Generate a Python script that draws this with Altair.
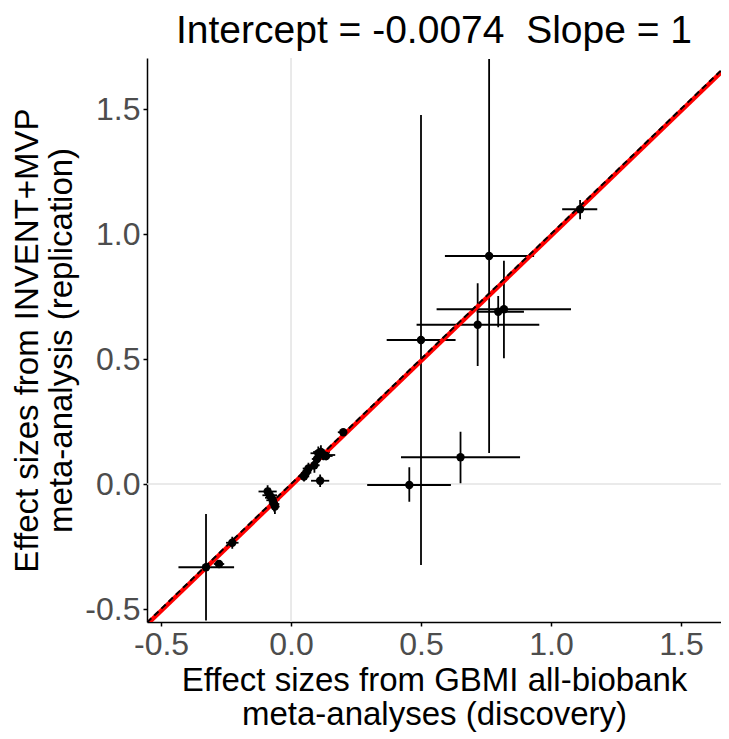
import altair as alt
import pandas as pd

# discovery (GBMI) effect sizes and 95% CI
gx    = [0.762, 0.500, 0.718, 0.797, 0.819, 0.652, 0.455, 1.112, -0.327, -0.277, -0.226, 0.201, 0.112,
         -0.090, -0.082, -0.075, -0.070, -0.065, -0.062,
         0.050, 0.058, 0.067, 0.090, 0.100, 0.105, 0.115, 0.125, 0.135]
gx_lo = [0.592, 0.368, 0.483, 0.714, 0.560, 0.423, 0.293, 1.043, -0.433, -0.297, -0.250, 0.180, 0.077,
         -0.125, -0.110, -0.100, -0.095, -0.085, -0.080,
         0.030, 0.038, 0.045, 0.070, 0.080, 0.075, 0.085, 0.095, 0.110]
gx_hi = [0.935, 0.633, 0.955, 0.896, 1.077, 0.881, 0.615, 1.178, -0.219, -0.257, -0.202, 0.222, 0.147,
         -0.055, -0.054, -0.050, -0.045, -0.045, -0.044,
         0.070, 0.078, 0.090, 0.110, 0.125, 0.135, 0.150, 0.170, 0.160]
# replication (INVENT+MVP) effect sizes and 95% CI
iy    = [0.912, 0.576, 0.637, 0.689, 0.699, 0.107, -0.004, 1.099, -0.333, -0.320, -0.235, 0.207, 0.013,
         -0.030, -0.045, -0.055, -0.065, -0.080, -0.090,
         0.030, 0.045, 0.062, 0.075, 0.100, 0.123, 0.128, 0.116, 0.112]
iy_lo = [0.124, -0.324, 0.472, 0.627, 0.503, 0.003, -0.071, 1.059, -0.546, -0.335, -0.259, 0.195, -0.012,
         -0.055, -0.075, -0.080, -0.085, -0.110, -0.120,
         0.010, 0.025, 0.040, 0.045, 0.080, 0.095, 0.100, 0.095, 0.095]
iy_hi = [1.700, 1.476, 0.803, 0.752, 0.893, 0.209, 0.067, 1.136, -0.120, -0.305, -0.211, 0.219, 0.038,
         -0.005, -0.015, -0.030, -0.045, -0.050, -0.060,
         0.050, 0.065, 0.085, 0.105, 0.120, 0.150, 0.155, 0.140, 0.130]

intercept = -0.0074
slope = 1.0
X_DOM = [-0.554, 1.654]
Y_DOM = [-0.552, 1.704]
ticks = [-0.5, 0.0, 0.5, 1.0, 1.5]

df = pd.DataFrame(dict(x=gx, xlo=gx_lo, xhi=gx_hi, y=iy, ylo=iy_lo, yhi=iy_hi))
lines = pd.DataFrame(dict(x=X_DOM,
                          fit=[intercept + slope * v for v in X_DOM],
                          ident=X_DOM))
zero = pd.DataFrame(dict(v=[0.0]))

FONT = "Liberation Sans"
lab = "datum.value < 0 ? '-' + format(abs(datum.value), '.1f') : format(datum.value, '.1f')"
xs = alt.Scale(domain=X_DOM, nice=False, zero=False)
ys = alt.Scale(domain=Y_DOM, nice=False, zero=False)
xaxis = alt.Axis(title=["Effect sizes from GBMI all-biobank", "meta-analyses (discovery)"],
                 values=ticks, labelExpr=lab, grid=False, titlePadding=4)
yaxis = alt.Axis(title=["Effect sizes from INVENT+MVP", "meta-analysis (replication)"],
                 values=ticks, labelExpr=lab, grid=False, titlePadding=6)

gx_rule = alt.Chart(zero).mark_rule(color="#e3e3e3", strokeWidth=1.5).encode(
    x=alt.X("v:Q", scale=xs, axis=xaxis))
gy_rule = alt.Chart(zero).mark_rule(color="#e3e3e3", strokeWidth=1.5).encode(
    y=alt.Y("v:Q", scale=ys, axis=yaxis))

base = alt.Chart(df)
eh = base.mark_rule(color="black", strokeWidth=1.8, clip=True).encode(
    x=alt.X("xlo:Q", scale=xs), x2="xhi:Q", y=alt.Y("y:Q", scale=ys))
ev = base.mark_rule(color="black", strokeWidth=1.8, clip=True).encode(
    x=alt.X("x:Q", scale=xs), y=alt.Y("ylo:Q", scale=ys), y2="yhi:Q")
fit = alt.Chart(lines).mark_line(color="#ff0000", strokeWidth=4.5, clip=True).encode(
    x=alt.X("x:Q", scale=xs), y=alt.Y("fit:Q", scale=ys))
ident = alt.Chart(lines).mark_line(color="black", strokeWidth=2, strokeDash=[6, 4], clip=True).encode(
    x=alt.X("x:Q", scale=xs), y=alt.Y("ident:Q", scale=ys))
pts = base.mark_circle(color="black", size=70, opacity=1).encode(
    x=alt.X("x:Q", scale=xs), y=alt.Y("y:Q", scale=ys))

chart = alt.layer(gx_rule, gy_rule, eh, ev, fit, ident, pts).properties(
    width=574, height=564,
    title=alt.TitleParams("Intercept = -0.0074 \u00a0Slope = 1", fontSize=39, font=FONT,
                          fontWeight="normal", color="black", anchor="middle", offset=6),
    autosize=alt.AutoSizeParams(type="none"),
    padding={"left": 139, "top": 50, "right": 0, "bottom": 114},
).configure_view(stroke=None).configure_axis(
    domainColor="black", domainWidth=1.5, tickColor="black", tickWidth=1.5, tickSize=4,
    labelFont=FONT, labelFontSize=32, labelColor="#4d4d4d", labelPadding=3,
    titleFont=FONT, titleFontSize=33, titleColor="black", titleFontWeight="normal",
    titleLineHeight=34,
)

chart.save("out.html", embed_options={"renderer": "svg", "actions": False})
